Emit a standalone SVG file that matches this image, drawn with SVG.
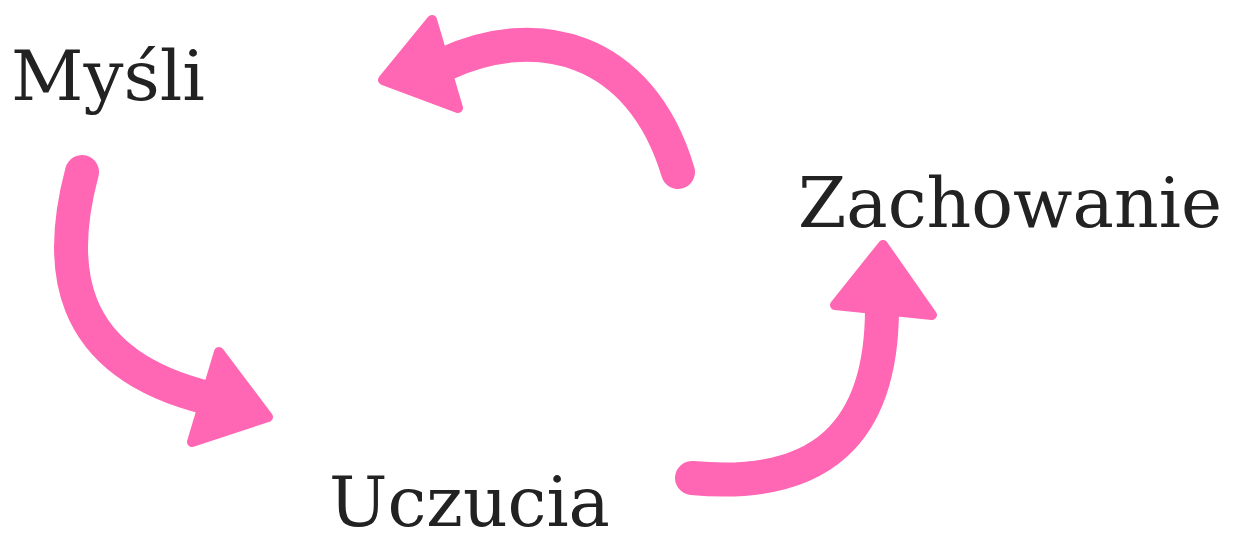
<svg xmlns="http://www.w3.org/2000/svg" width="1242" height="541" viewBox="0 0 1242 541">
<style>
.lbl{font-family:"DejaVu Serif","Liberation Serif",serif;font-size:70px;fill:#222222}
.shaft{fill:none;stroke:#FF66B3;stroke-width:34;stroke-linecap:round}
.head{fill:#FF66B3;stroke:#FF66B3;stroke-width:10;stroke-linejoin:round}
</style>
<rect width="1242" height="541" fill="#ffffff"/>
<g id="connectors">
<g id="arrow-mysli-uczucia">
<path class="shaft" d="M 82 172 C 58 262, 62 362, 208 398"/>
<polygon class="head" points="219,352 268,417 192,442"/>
</g>
<g id="arrow-zachowanie-mysli">
<path class="shaft" d="M 678 172 C 640 45, 535 22, 445 64"/>
<polygon class="head" points="432,20 383,80 458,108"/>
</g>
<g id="arrow-uczucia-zachowanie">
<path class="shaft" d="M 692 478 C 822 490, 882 432, 882 308"/>
<polygon class="head" points="835,305 883,245 932,315"/>
</g>
</g>
<g id="node-mysli"><text class="lbl" x="11" y="100" textLength="194" lengthAdjust="spacingAndGlyphs">Myśli</text></g>
<g id="node-uczucia"><text class="lbl" x="329" y="526" textLength="281" lengthAdjust="spacingAndGlyphs">Uczucia</text></g>
<g id="node-zachowanie"><text class="lbl" x="798" y="227" textLength="424" lengthAdjust="spacingAndGlyphs">Zachowanie</text></g>
</svg>
